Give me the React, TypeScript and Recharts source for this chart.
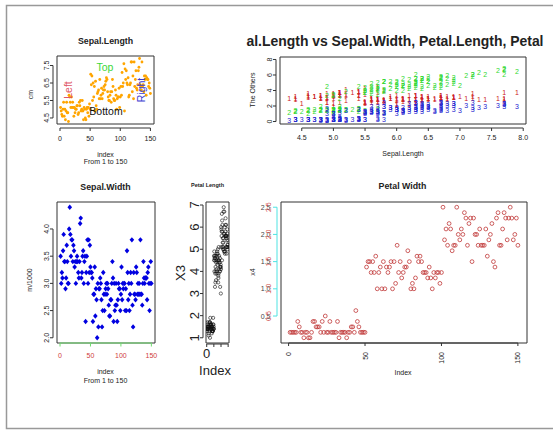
import React from 'react';
import { ScatterChart, Scatter, XAxis, YAxis, ReferenceArea } from 'recharts';

// iris measurements, row order 1..150
const sepalLength = [
  5.1, 4.9, 4.7, 4.6, 5.0, 5.4, 4.6, 5.0, 4.4, 4.9, 5.4, 4.8, 4.8, 4.3, 5.8, 5.7, 5.4, 5.1, 5.7, 5.1,
  5.4, 5.1, 4.6, 5.1, 4.8, 5.0, 5.0, 5.2, 5.2, 4.7, 4.8, 5.4, 5.2, 5.5, 4.9, 5.0, 5.5, 4.9, 4.4, 5.1,
  5.0, 4.5, 4.4, 5.0, 5.1, 4.8, 5.1, 4.6, 5.3, 5.0, 7.0, 6.4, 6.9, 5.5, 6.5, 5.7, 6.3, 4.9, 6.6, 5.2,
  5.0, 5.9, 6.0, 6.1, 5.6, 6.7, 5.6, 5.8, 6.2, 5.6, 5.9, 6.1, 6.3, 6.1, 6.4, 6.6, 6.8, 6.7, 6.0, 5.7,
  5.5, 5.5, 5.8, 6.0, 5.4, 6.0, 6.7, 6.3, 5.6, 5.5, 5.5, 6.1, 5.8, 5.0, 5.6, 5.7, 5.7, 6.2, 5.1, 5.7,
  6.3, 5.8, 7.1, 6.3, 6.5, 7.6, 4.9, 7.3, 6.7, 7.2, 6.5, 6.4, 6.8, 5.7, 5.8, 6.4, 6.5, 7.7, 7.7, 6.0,
  6.9, 5.6, 7.7, 6.3, 6.7, 7.2, 6.2, 6.1, 6.4, 7.2, 7.4, 7.9, 6.4, 6.3, 6.1, 7.7, 6.3, 6.4, 6.0, 6.9,
  6.7, 6.9, 5.8, 6.8, 6.7, 6.7, 6.3, 6.5, 6.2, 5.9,
];
const sepalWidth = [
  3.5, 3.0, 3.2, 3.1, 3.6, 3.9, 3.4, 3.4, 2.9, 3.1, 3.7, 3.4, 3.0, 3.0, 4.0, 4.4, 3.9, 3.5, 3.8, 3.8,
  3.4, 3.7, 3.6, 3.3, 3.4, 3.0, 3.4, 3.5, 3.4, 3.2, 3.1, 3.4, 4.1, 4.2, 3.1, 3.2, 3.5, 3.6, 3.0, 3.4,
  3.5, 2.3, 3.2, 3.5, 3.8, 3.0, 3.8, 3.2, 3.7, 3.3, 3.2, 3.2, 3.1, 2.3, 2.8, 2.8, 3.3, 2.4, 2.9, 2.7,
  2.0, 3.0, 2.2, 2.9, 2.9, 3.1, 3.0, 2.7, 2.2, 2.5, 3.2, 2.8, 2.5, 2.8, 2.9, 3.0, 2.8, 3.0, 2.9, 2.6,
  2.4, 2.4, 2.7, 2.7, 3.0, 3.4, 3.1, 2.3, 3.0, 2.5, 2.6, 3.0, 2.6, 2.3, 2.7, 3.0, 2.9, 2.9, 2.5, 2.8,
  3.3, 2.7, 3.0, 2.9, 3.0, 3.0, 2.5, 2.9, 2.5, 3.6, 3.2, 2.7, 3.0, 2.5, 2.8, 3.2, 3.0, 3.8, 2.6, 2.2,
  3.2, 2.8, 2.8, 2.7, 3.3, 3.2, 2.8, 3.0, 2.8, 3.0, 2.8, 3.8, 2.8, 2.8, 2.6, 3.0, 3.4, 3.1, 3.0, 3.1,
  3.1, 3.1, 2.7, 3.2, 3.3, 3.0, 2.5, 3.0, 3.4, 3.0,
];
const petalLength = [
  1.4, 1.4, 1.3, 1.5, 1.4, 1.7, 1.4, 1.5, 1.4, 1.5, 1.5, 1.6, 1.4, 1.1, 1.2, 1.5, 1.3, 1.4, 1.7, 1.5,
  1.7, 1.5, 1.0, 1.7, 1.9, 1.6, 1.6, 1.5, 1.4, 1.6, 1.6, 1.5, 1.5, 1.4, 1.5, 1.2, 1.3, 1.4, 1.3, 1.5,
  1.3, 1.3, 1.3, 1.6, 1.9, 1.4, 1.6, 1.4, 1.5, 1.4, 4.7, 4.5, 4.9, 4.0, 4.6, 4.5, 4.7, 3.3, 4.6, 3.9,
  3.5, 4.2, 4.0, 4.7, 3.6, 4.4, 4.5, 4.1, 4.5, 3.9, 4.8, 4.0, 4.9, 4.7, 4.3, 4.4, 4.8, 5.0, 4.5, 3.5,
  3.8, 3.7, 3.9, 5.1, 4.5, 4.5, 4.7, 4.4, 4.1, 4.0, 4.4, 4.6, 4.0, 3.3, 4.2, 4.2, 4.2, 4.3, 3.0, 4.1,
  6.0, 5.1, 5.9, 5.6, 5.8, 6.6, 4.5, 6.3, 5.8, 6.1, 5.1, 5.3, 5.5, 5.0, 5.1, 5.3, 5.5, 6.7, 6.9, 5.0,
  5.7, 4.9, 6.7, 4.9, 5.7, 6.0, 4.8, 4.9, 5.6, 5.8, 6.1, 6.4, 5.6, 5.1, 5.6, 6.1, 5.6, 5.5, 4.8, 5.4,
  5.6, 5.1, 5.1, 5.9, 5.7, 5.2, 5.0, 5.2, 5.4, 5.1,
];
const petalWidth = [
  0.2, 0.2, 0.2, 0.2, 0.2, 0.4, 0.3, 0.2, 0.2, 0.1, 0.2, 0.2, 0.1, 0.1, 0.2, 0.4, 0.4, 0.3, 0.3, 0.3,
  0.2, 0.4, 0.2, 0.5, 0.2, 0.2, 0.4, 0.2, 0.2, 0.2, 0.2, 0.4, 0.1, 0.2, 0.2, 0.2, 0.2, 0.1, 0.2, 0.2,
  0.3, 0.3, 0.2, 0.6, 0.4, 0.3, 0.2, 0.2, 0.2, 0.2, 1.4, 1.5, 1.5, 1.3, 1.5, 1.3, 1.6, 1.0, 1.3, 1.4,
  1.0, 1.5, 1.0, 1.4, 1.3, 1.4, 1.5, 1.0, 1.5, 1.1, 1.8, 1.3, 1.5, 1.2, 1.3, 1.4, 1.4, 1.7, 1.5, 1.0,
  1.1, 1.0, 1.2, 1.6, 1.5, 1.6, 1.5, 1.3, 1.3, 1.3, 1.2, 1.4, 1.2, 1.0, 1.3, 1.2, 1.3, 1.3, 1.1, 1.3,
  2.5, 1.9, 2.1, 1.8, 2.2, 2.1, 1.7, 1.8, 1.8, 2.5, 2.0, 1.9, 2.1, 2.0, 2.4, 2.3, 1.8, 2.2, 2.3, 1.5,
  2.3, 2.0, 2.0, 1.8, 2.1, 1.8, 1.8, 1.8, 2.1, 1.6, 1.9, 2.0, 2.2, 1.5, 1.4, 2.3, 2.4, 1.8, 1.8, 2.1,
  2.4, 2.3, 1.9, 2.3, 2.5, 2.3, 1.9, 2.0, 2.3, 1.8,
];

const indexTicks = [0, 50, 100, 150];
const slTicks = [4.5, 5.5, 6.5, 7.5];
const slAxisTicks = [4.5, 5.0, 5.5, 6.0, 6.5, 7.0, 7.5, 8.0];
const otherTicks = [0, 2, 4, 6, 8];
const swTicks = [2.0, 2.5, 3.0, 3.5, 4.0];
const plTicks = [1, 2, 3, 4, 5, 6, 7];
const pwTicks = [0.5, 1.0, 1.5, 2.0, 2.5];

const W = 553;
const H = 430;
const FONT = "'Liberation Sans', Arial, Helvetica, sans-serif";
const INK = '#222';

// R pads the data range by 4% on each side
const pad = (lo: number, hi: number): [number, number] => {
  const d = (hi - lo) * 0.04;
  return [lo - d, hi + d];
};
const range = (a: number[]) => pad(Math.min(...a), Math.max(...a));
const byIndex = (a: number[]) => a.map((v, i) => ({ x: i + 1, y: v }));

type Box = { l: number; t: number; r: number; b: number };
type AxisSpec = {
  ticks: number[];
  off: number;
  len: number;
  color: string;
  label: (pos: number, edge: number, v: number) => React.ReactNode;
};

// axes get 1px of room: recharts skips drawing an axis with zero size.
// the axis line runs from the first to the last tick, drawn by the first tick.
const Panel = ({ box, xd, yd, xa, ya, children }: any) => {
  const b = box as Box;
  const xA = xa as AxisSpec;
  const yA = ya as AxisSpec;
  const xSpan = ((xA.ticks[xA.ticks.length - 1] - xA.ticks[0]) * (b.r - b.l)) / (xd[1] - xd[0]);
  const ySpan = ((yA.ticks[yA.ticks.length - 1] - yA.ticks[0]) * (b.b - b.t)) / (yd[1] - yd[0]);
  return (
    <div style={{ position: 'absolute', left: 0, top: 0 }}>
      <ScatterChart width={W} height={H} margin={{ left: b.l - 1, top: b.t, right: W - b.r, bottom: H - b.b - 1 }}>
        <XAxis
          type="number"
          dataKey="x"
          domain={xd}
          allowDataOverflow
          ticks={xA.ticks}
          interval={0}
          height={1}
          tickSize={0}
          tickMargin={0}
          axisLine={false}
          tickLine={false}
          tick={(p: any) => (
            <g>
              {p.index === 0 && (
                <line x1={p.x} x2={p.x + xSpan} y1={p.y + xA.off} y2={p.y + xA.off} stroke={xA.color} />
              )}
              <line x1={p.x} x2={p.x} y1={p.y + xA.off} y2={p.y + xA.off + xA.len} stroke={xA.color} />
              {xA.label(p.x, p.y, p.payload.value)}
            </g>
          )}
        />
        <YAxis
          type="number"
          dataKey="y"
          domain={yd}
          allowDataOverflow
          ticks={yA.ticks}
          interval={0}
          width={1}
          tickSize={0}
          tickMargin={0}
          axisLine={false}
          tickLine={false}
          tick={(p: any) => (
            <g>
              {p.index === 0 && (
                <line x1={p.x - yA.off} x2={p.x - yA.off} y1={p.y} y2={p.y - ySpan} stroke={yA.color} />
              )}
              <line x1={p.x - yA.off} x2={p.x - yA.off - yA.len} y1={p.y} y2={p.y} stroke={yA.color} />
              {yA.label(p.y, p.x, p.payload.value)}
            </g>
          )}
        />
        <ReferenceArea x1={xd[0]} x2={xd[1]} y1={yd[0]} y2={yd[1]} fill="none" stroke="#333" ifOverflow="visible" />
        {children}
      </ScatterChart>
    </div>
  );
};

const rotLabel = (x: number, y: number, s: string, fs = 7, fill = INK) => (
  <text transform={`translate(${x},${y}) rotate(-90)`} textAnchor="middle" fontSize={fs} fill={fill} fontFamily={FONT}>
    {s}
  </text>
);
const flatLabel = (x: number, y: number, s: string, fs = 7, fill = INK) => (
  <text x={x} y={y} textAnchor="middle" fontSize={fs} fill={fill} fontFamily={FONT}>
    {s}
  </text>
);

const idxDomain = pad(1, sepalLength.length);

const App = () => {
  const slDomain = range(sepalLength);
  const swDomain = range(sepalWidth);
  const plDomain = range(petalLength);
  const pwDomain = range(petalWidth);
  const otherDomain = pad(0, 8);

  const digit = (ch: string, color: string) => (p: any) => (
    <text x={p.cx} y={p.cy} textAnchor="middle" dominantBaseline="central" fontSize={7} fill={color} fontFamily={FONT}>
      {ch}
    </text>
  );

  return (
    <div style={{ position: 'absolute', left: 0, top: 0, width: W, height: H, background: '#fff', overflow: 'hidden' }}>
      {/* Sepal.Length by index */}
      <Panel
        box={{ l: 57, t: 56, r: 154, b: 124 }}
        xd={idxDomain}
        yd={slDomain}
        xa={{ ticks: indexTicks, off: 4, len: 3, color: '#333', label: (x: number, e: number, v: number) => flatLabel(x, e + 16.5, String(v)) }}
        ya={{ ticks: slTicks, off: 4, len: 3, color: '#333', label: (y: number, e: number, v: number) => rotLabel(e - 8, y, v.toFixed(1)) }}
      >
        <Scatter data={byIndex(sepalLength)} isAnimationActive={false} shape={(p: any) => <circle cx={p.cx} cy={p.cy} r={1.4} fill="#FFA500" />} />
      </Panel>

      {/* Sepal.Length vs the others */}
      <Panel
        box={{ l: 280, t: 57, r: 526, b: 124 }}
        xd={slDomain}
        yd={otherDomain}
        xa={{ ticks: slAxisTicks, off: 4, len: 3, color: '#333', label: (x: number, e: number, v: number) => flatLabel(x, e + 16, v.toFixed(1)) }}
        ya={{ ticks: otherTicks, off: 4, len: 3, color: '#333', label: (y: number, e: number, v: number) => rotLabel(e - 8, y, String(v)) }}
      >
        <Scatter data={sepalLength.map((x, i) => ({ x, y: sepalWidth[i] }))} isAnimationActive={false} shape={digit('1', '#cc2020')} />
        <Scatter data={sepalLength.map((x, i) => ({ x, y: petalLength[i] }))} isAnimationActive={false} shape={digit('2', '#30d830')} />
        <Scatter data={sepalLength.map((x, i) => ({ x, y: petalWidth[i] }))} isAnimationActive={false} shape={digit('3', '#2424d0')} />
      </Panel>

      {/* Sepal.Width by index */}
      <Panel
        box={{ l: 57, t: 202, r: 155, b: 343 }}
        xd={idxDomain}
        yd={swDomain}
        xa={{ ticks: indexTicks, off: 0, len: 3.5, color: '#6fdc6f', label: (x: number, e: number, v: number) => flatLabel(x, e + 15.3, String(v), 7, '#d03c3c') }}
        ya={{ ticks: swTicks, off: 4, len: 3, color: '#333', label: (y: number, e: number, v: number) => rotLabel(e - 8, y, v.toFixed(1)) }}
      >
        <Scatter
          data={byIndex(sepalWidth)}
          isAnimationActive={false}
          shape={(p: any) => (
            <polygon points={`${p.cx},${p.cy - 2.7} ${p.cx + 2.3},${p.cy} ${p.cx},${p.cy + 2.7} ${p.cx - 2.3},${p.cy}`} fill="#0000e0" />
          )}
        />
      </Panel>

      {/* Petal Length by index */}
      <Panel
        box={{ l: 206, t: 202, r: 229, b: 343 }}
        xd={idxDomain}
        yd={plDomain}
        xa={{ ticks: indexTicks, off: 1, len: 3, color: '#333', label: (x: number, e: number, v: number) => (v === 0 ? flatLabel(x, e + 14.5, '0', 13) : null) }}
        ya={{ ticks: plTicks, off: 3, len: 3, color: '#333', label: (y: number, e: number, v: number) => rotLabel(e - 7, y, String(v), 13) }}
      >
        <Scatter
          data={byIndex(petalLength)}
          isAnimationActive={false}
          shape={(p: any) => <circle cx={p.cx} cy={p.cy} r={1.6} fill="none" stroke="#111" strokeWidth={0.6} />}
        />
      </Panel>

      {/* Petal Width by index */}
      <Panel
        box={{ l: 281, t: 202, r: 527, b: 343 }}
        xd={idxDomain}
        yd={pwDomain}
        xa={{
          ticks: indexTicks,
          off: 0,
          len: 3,
          color: '#333',
          label: (x: number, e: number, v: number) => (
            <text transform={`translate(${x + 2.5},${e + 9}) rotate(-90)`} textAnchor="end" fontSize={7} fill={INK} fontFamily={FONT}>
              {v}
            </text>
          ),
        }}
        ya={{
          ticks: pwTicks,
          off: 4,
          len: 4,
          color: '#4fe3e3',
          label: (y: number, e: number, v: number) => (
            <g>
              <text x={e - 10.5} y={y + 2.5} textAnchor="end" fontSize={7} fill="#444" fontFamily={FONT}>
                {v.toFixed(1)}
              </text>
              {rotLabel(e - 10, y, v.toFixed(1), 7, '#d04a4a')}
            </g>
          ),
        }}
      >
        <Scatter
          data={byIndex(petalWidth)}
          isAnimationActive={false}
          shape={(p: any) => <circle cx={p.cx} cy={p.cy} r={1.9} fill="none" stroke="#c03838" strokeWidth={0.8} />}
        />
      </Panel>

      {/* titles, axis titles, annotations and frame */}
      <svg width={W} height={H} style={{ position: 'absolute', left: 0, top: 0, pointerEvents: 'none' }} fontFamily={FONT}>
        <rect x={6.5} y={5.5} width={W} height={423} fill="none" stroke="#999" strokeWidth={1.5} />

        <text x={105.5} y={44} textAnchor="middle" fontSize={8.8} fontWeight="bold" fill={INK}>Sepal.Length</text>
        {rotLabel(32.5, 94.5, 'cm')}
        {flatLabel(105.5, 156.5, 'index')}
        {flatLabel(105.5, 164, 'From 1 to 150')}
        <text x={105} y={70.5} textAnchor="middle" fontSize={10.5} fill="#3ad83a">Top</text>
        <text x={106} y={115} textAnchor="middle" fontSize={10.5} fill="#111">Bottom</text>
        {rotLabel(72, 90, 'Left', 10.5, '#e05565')}
        {rotLabel(145, 90, 'Right', 10.5, '#3b3bd0')}

        <text x={246.5} y={46} fontSize={14} fontWeight="bold" fill={INK} textLength={297} lengthAdjust="spacingAndGlyphs">
          al.Length vs Sepal.Width, Petal.Length, Petal
        </text>
        {rotLabel(254.5, 90, 'The Others')}
        {flatLabel(403, 156, 'Sepal.Length')}

        <text x={105.5} y={190} textAnchor="middle" fontSize={8.8} fontWeight="bold" fill={INK}>Sepal.Width</text>
        {rotLabel(32, 280, 'm/1000')}
        {flatLabel(105.5, 374, 'index')}
        {flatLabel(105.5, 383, 'From 1 to 150')}

        <text x={207.5} y={186.5} textAnchor="middle" fontSize={5.5} fontWeight="bold" fill={INK}>Petal Length</text>
        {rotLabel(185, 273, 'X3', 13)}
        {flatLabel(215, 375, 'Index', 13)}

        <text x={402.5} y={188.5} textAnchor="middle" fontSize={8.8} fontWeight="bold" fill={INK}>Petal Width</text>
        {rotLabel(254.5, 272, 'x4')}
        {flatLabel(403, 375, 'Index')}
      </svg>
    </div>
  );
};

export default App;
